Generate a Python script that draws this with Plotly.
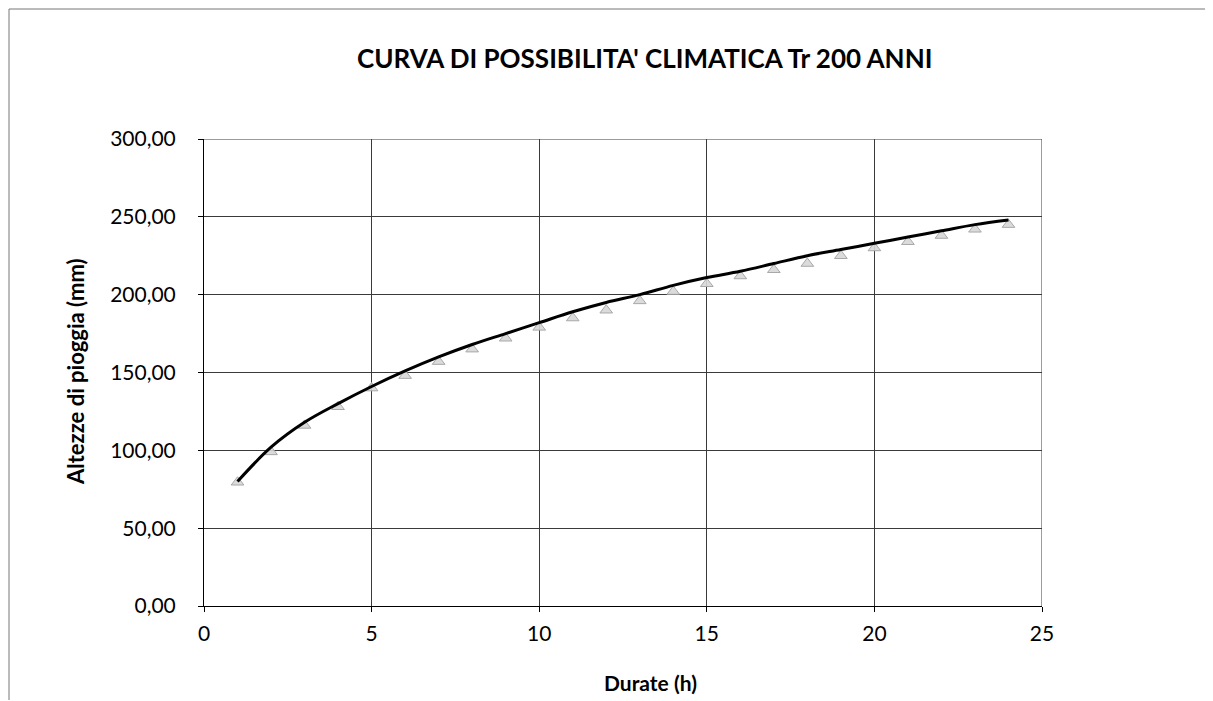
import plotly.graph_objects as go

# Data
durate = [1, 2, 3, 4, 5, 6, 7, 8, 9, 10, 11, 12, 13, 14, 15, 16, 17, 18, 19, 20, 21, 22, 23, 24]
altezze_osservate = [79.5, 99, 116, 128, 140, 148, 157, 165, 172, 179, 185, 190, 196, 202, 207,
                     212, 216, 220, 225, 230, 234, 238, 242, 245]
curva = [80, 102, 118, 130, 141, 151, 160, 168, 175, 182, 189, 195, 200, 206, 211,
         215, 220, 225, 229, 233, 237, 241, 245, 248]

x_ticks = [0, 5, 10, 15, 20, 25]
y_ticks = [0, 50, 100, 150, 200, 250, 300]

title_text = "CURVA DI POSSIBILITA' CLIMATICA Tr 200 ANNI"
x_title = "Durate (h)"
y_title = "Altezze di pioggia (mm)"

OFF = 8  # page body margin
W, H = 1213 - OFF, 701 - OFF
L, R, T, B = 204, 1042, 139, 606  # plot area in screen pixels


def px(xp):
    return (xp - L) / (R - L)


def py(yp):
    return (B - yp) / (B - T)


FONT = "Lato, 'Open Sans', sans-serif"

fig = go.Figure()
fig.add_trace(go.Scatter(
    x=durate, y=altezze_osservate, mode="markers",
    marker=dict(symbol="triangle-up", size=11, color="rgba(215,215,215,0.9)",
                line=dict(color="#a8a8a8", width=1)),
    showlegend=False, hoverinfo="x+y"))
fig.add_trace(go.Scatter(
    x=durate, y=curva, mode="lines", line=dict(color="black", width=3, shape="spline"),
    showlegend=False))

fig.update_layout(
    width=W, height=H,
    margin=dict(l=L - OFF, r=W - (R - OFF), t=T - OFF, b=H - (B - OFF)),
    paper_bgcolor="white", plot_bgcolor="white",
    separators=", ",
    font=dict(family=FONT, size=21, color="black"),
    xaxis=dict(range=[0, 25], tickvals=x_ticks, showgrid=True, gridcolor="#3a3a3a", gridwidth=1,
               showline=True, linecolor="black", linewidth=1, ticks="outside", ticklen=5,
               tickcolor="black", zeroline=False, ticklabelstandoff=4),
    yaxis=dict(range=[0, 300], tickvals=y_ticks, tickformat=".2f", showgrid=True,
               gridcolor="#3a3a3a", gridwidth=1, showline=True, linecolor="black", linewidth=1,
               ticks="outside", ticklen=5, tickcolor="black", zeroline=False,
               ticklabelstandoff=18),
    annotations=[
        dict(text="<b>" + title_text + "</b>", x=px(644), y=py(58), xref="paper", yref="paper",
             showarrow=False, font=dict(size=26, family=FONT), xanchor="center", yanchor="middle"),
        dict(text="<b>" + x_title + "</b>", x=px(650), y=py(682), xref="paper", yref="paper",
             showarrow=False, font=dict(size=21, family=FONT), xanchor="center", yanchor="middle"),
        dict(text="<b>" + y_title + "</b>", x=px(75), y=py(372), xref="paper", yref="paper",
             showarrow=False, textangle=-90, font=dict(size=22, family=FONT),
             xanchor="center", yanchor="middle"),
    ],
    shapes=[
        dict(type="line", xref="paper", yref="paper", x0=px(9), x1=px(1220), y0=py(9), y1=py(9),
             line=dict(color="#777", width=1)),
        dict(type="line", xref="paper", yref="paper", x0=px(9), x1=px(9), y0=py(9), y1=py(700),
             line=dict(color="#777", width=1)),
        dict(type="line", xref="x", yref="y", x0=25, x1=25, y0=0, y1=300,
             line=dict(color="#3a3a3a", width=1)),
        dict(type="line", xref="x", yref="y", x0=0, x1=25, y0=300, y1=300,
             line=dict(color="#3a3a3a", width=1)),
    ],
)

fig.write_html("out.html")
